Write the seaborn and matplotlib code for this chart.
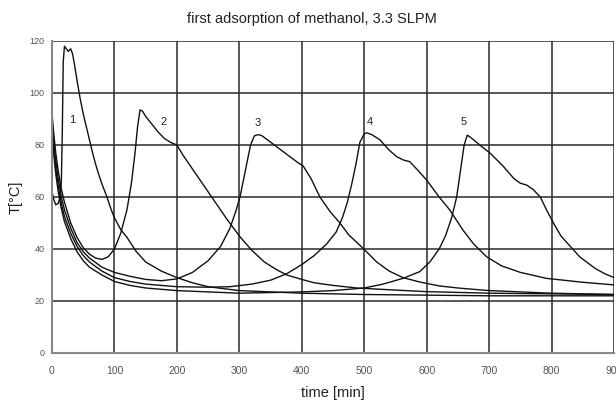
import numpy as np
import pandas as pd
import matplotlib
matplotlib.use("Agg")
import matplotlib.pyplot as plt
import seaborn as sns

# ---- data ----
t1 = [0, 3, 6, 10, 13, 15, 16.5, 18, 20, 23, 26, 30, 33, 36, 40, 45, 50, 55, 60, 65, 70, 75, 80, 88, 95, 100, 110, 120, 135, 150, 175, 200, 225, 250, 300, 400, 500, 700, 900]
T1 = [62, 59, 57, 57.5, 60, 66, 85, 112, 118, 117, 116, 117, 115, 111, 105, 98, 92, 87, 82, 77, 72.5, 68.5, 65, 60, 55, 52, 47.5, 44.5, 39, 35, 31.5, 29, 27, 25.5, 24, 23, 22.5, 22, 22]

t2 = [0, 3, 6, 10, 15, 20, 30, 40, 50, 60, 70, 80, 90, 100, 110, 120, 127, 133, 137, 141, 145, 150, 160, 170, 180, 190, 200, 210, 220, 240, 260, 280, 300, 320, 340, 360, 376, 400, 420, 450, 488, 550, 600, 700, 900]
T2 = [92, 84, 77, 70, 63, 58, 50, 44.5, 40.5, 38, 36.5, 36, 37, 40, 46, 55, 65, 77, 87, 93.5, 93, 91, 88, 85, 82.5, 81, 80, 76, 72.5, 65.5, 58.5, 51.5, 45, 39.5, 35, 32, 30, 28.3, 27, 26, 25, 24.2, 23.6, 23, 22.5]

t3 = [0, 3, 6, 10, 15, 20, 30, 40, 50, 60, 80, 100, 125, 150, 175, 200, 225, 250, 270, 285, 295, 301, 307, 312, 318, 324, 330, 336, 345, 360, 381, 395, 402, 415, 429, 445, 461, 475, 498, 520, 540, 562, 589, 620, 650, 700, 800, 900]
T3 = [89, 81, 74, 67, 60, 55, 48, 42.5, 39, 36.5, 33, 31, 29.5, 28.3, 27.8, 28.5, 31, 35.5, 41, 48, 55, 60, 67, 73, 80, 83.5, 84, 83.6, 82, 79.3, 75.5, 73, 72, 67, 60, 54.5, 50, 45.5, 40.3, 35, 31.5, 29, 27.3, 25.8, 25, 24, 23, 22.5]

t4 = [0, 3, 6, 10, 15, 20, 30, 40, 50, 60, 80, 100, 125, 150, 200, 250, 285, 320, 350, 376, 400, 420, 440, 455, 465, 473, 480, 487, 493, 500, 504, 512, 525, 540, 552, 563, 573, 585, 600, 620, 637, 658, 675, 696, 720, 750, 792, 850, 900]
T4 = [86, 78, 71, 64, 57.5, 52.5, 46, 41, 37.5, 35, 31.5, 29, 27.5, 26.5, 25.5, 25.3, 25.5, 26.5, 28, 30.5, 34, 37.5, 42, 46.5, 52, 58, 65, 73, 81, 84.3, 84.7, 84, 82, 78, 75.5, 74.2, 73.6, 70.5, 66.5, 60, 55, 47.3, 42, 37, 33.5, 31, 28.7, 27.2, 26.2]

t5 = [0, 3, 6, 10, 15, 20, 30, 40, 50, 60, 80, 100, 125, 150, 200, 300, 400, 450, 500, 530, 562, 589, 605, 620, 630, 640, 648, 654, 660, 665, 670, 685, 702, 723, 740, 750, 760, 770, 782, 792, 803, 815, 830, 845, 856, 870, 885, 900]
T5 = [84, 76, 69, 62, 55.5, 50.5, 44, 39, 35.5, 33, 30, 27.5, 26, 25, 24, 23, 23.5, 24, 25, 26.5, 28.7, 31.3, 35, 40, 45, 52, 60, 70, 80, 83.8, 83, 80, 76.8, 71.7, 67, 65.3, 64.6, 63, 60, 55, 50, 45, 41, 37, 35, 32.5, 30.5, 29]

runs = ["1", "2", "3", "4", "5"]
label_t = [32, 178, 330, 509, 660]
label_T = [89.6, 89, 88.5, 89, 89]

xticks = [0, 100, 200, 300, 400, 500, 600, 700, 800, 900]
yticks = [0, 20, 40, 60, 80, 100, 120]

frames = []
for name, tt, TT in zip(runs, [t1, t2, t3, t4, t5], [T1, T2, T3, T4, T5]):
    frames.append(pd.DataFrame({"time": tt, "T": TT, "run": name}))
df = pd.concat(frames, ignore_index=True)

sns.set_style("white")
plt.rcParams["font.family"] = ["Liberation Sans", "DejaVu Sans"]

fig = plt.figure(figsize=(6.16, 4.0), dpi=100)
ax = fig.add_axes([0.0844, 0.1175, 0.9124, 0.78])

sns.lineplot(data=df, x="time", y="T", hue="run", units="run", estimator=None,
             palette=["#111111"] * 5, legend=False, linewidth=1.0, sort=False, ax=ax)

for name, x, y in zip(runs, label_t, label_T):
    ax.text(x, y, name, fontsize=8, color="#222222", ha="center", va="center")

ax.set_xlim(0, 900)
ax.set_ylim(0, 120)
ax.set_xticks(xticks)
ax.set_yticks(yticks)
ax.set_xticklabels([str(v) for v in xticks], fontsize=7.5, color="#555555")
ax.set_yticklabels([str(v) for v in yticks], fontsize=6.5, color="#555555")
ax.grid(True, color="#2a2a2a", linewidth=1.1)
ax.set_axisbelow(True)
ax.tick_params(axis="x", direction="inout", length=5, width=1, color="#888888", pad=7)
ax.tick_params(axis="y", direction="inout", length=5, width=1, color="#888888", pad=3)

for side in ["top", "right"]:
    ax.spines[side].set_visible(False)
for side in ["left", "bottom"]:
    ax.spines[side].set_color("#888888")
    ax.spines[side].set_linewidth(1.5)

ax.set_xlabel("time [min]", fontsize=10.5, color="#222222", labelpad=7)
ax.set_ylabel("T[°C]", fontsize=10.5, color="#222222", labelpad=5)
fig.text(0.5065, 0.953, "first adsorption of methanol, 3.3 SLPM", fontsize=10.5,
         color="#222222", ha="center", va="center")

fig.savefig("out.png", dpi=100)
